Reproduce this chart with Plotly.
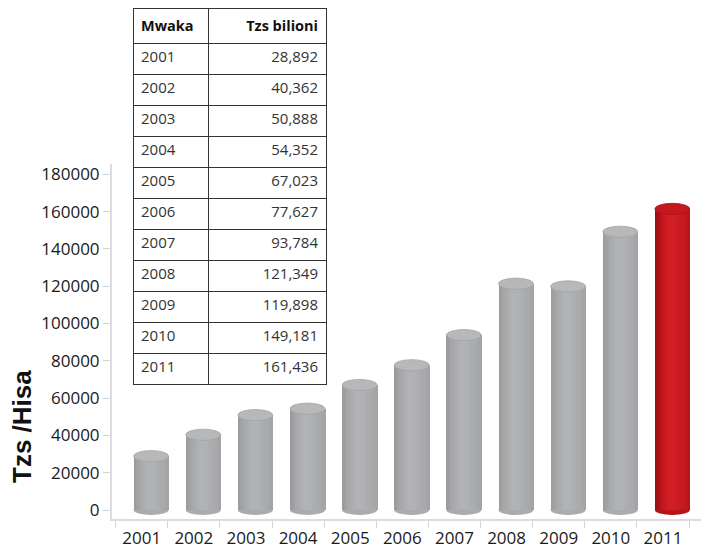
import plotly.graph_objects as go

# ---- data ----
years = ["2001", "2002", "2003", "2004", "2005", "2006", "2007", "2008", "2009", "2010", "2011"]
values = [28892, 40362, 50888, 54352, 67023, 77627, 93784, 121349, 119898, 149181, 161436]
value_labels = ["28,892", "40,362", "50,888", "54,352", "67,023", "77,627",
                "93,784", "121,349", "119,898", "149,181", "161,436"]
y_ticks = [0, 20000, 40000, 60000, 80000, 100000, 120000, 140000, 160000, 180000]
table_header = ["Mwaka", "Tzs bilioni"]
y_title = "Tzs /Hisa"

W, H = 701, 553
MB = 34
PH = H - MB  # paper height

# cylinder gradient stops (left -> right)
gray_stops = [(152, 153, 155), (164, 165, 167), (172, 173, 175), (178, 179, 181),
              (177, 178, 180), (172, 173, 175), (168, 169, 171), (162, 163, 165)]
red_stops = [(150, 12, 16), (178, 18, 24), (200, 26, 32), (210, 30, 36),
             (208, 30, 36), (200, 26, 32), (194, 24, 30), (180, 20, 26)]

def interp(stops, t):
    n = len(stops) - 1
    p = t * n
    i = min(int(p), n - 1)
    f = p - i
    a, b = stops[i], stops[i + 1]
    c = tuple(round(a[k] + (b[k] - a[k]) * f) for k in range(3))
    return "rgb(%d,%d,%d)" % c

highlight = [y == "2011" for y in years]
bar_off = -0.155
bar_w = 0.67
N = 14
sw = bar_w / N

fig = go.Figure()
for s in range(N):
    t = (s + 0.5) / N
    cols = [interp(red_stops, t) if h else interp(gray_stops, t) for h in highlight]
    fig.add_trace(go.Bar(
        x=years, y=values, base=0,
        offset=bar_off + s * sw, width=sw * 1.25,
        marker=dict(color=cols, line=dict(width=0)),
        showlegend=False, hoverinfo="skip",
    ))

cap_h = 3000
shapes = []
for i, (v, h) in enumerate(zip(values, highlight)):
    x0 = i + bar_off
    x1 = i + bar_off + bar_w
    # bottom ellipse
    shapes.append(dict(type="circle", xref="x", yref="y", x0=x0, x1=x1,
                       y0=-cap_h * 0.9, y1=cap_h * 0.9, layer="below",
                       fillcolor="rgb(180,20,26)" if h else "rgb(170,171,173)",
                       line=dict(width=0)))
    # top cap
    shapes.append(dict(type="circle", xref="x", yref="y", x0=x0, x1=x1,
                       y0=v - cap_h, y1=v + cap_h, layer="above",
                       fillcolor="rgb(196,24,30)" if h else "rgb(183,184,186)",
                       line=dict(width=0.8, color="rgb(170,18,24)" if h else "rgb(162,163,165)")))

fig.add_trace(go.Table(
    domain=dict(x=[133 / W, 326 / W], y=[(PH - 394) / PH, (PH - 8) / PH]),
    columnwidth=[75, 118],
    header=dict(values=["<b>%s</b>" % t for t in table_header],
                align=["left", "right"], height=33,
                font=dict(family="Open Sans", size=14.5, color="#111111"),
                line=dict(color="#333333", width=1), fill=dict(color="white")),
    cells=dict(values=[years, value_labels], align=["left", "right"], height=31,
               font=dict(family="Open Sans", size=15, color="#333333"),
               line=dict(color="#333333", width=1), fill=dict(color="white")),
))

fig.update_layout(
    width=W, height=H,
    margin=dict(l=0, r=0, t=0, b=MB, pad=0),
    paper_bgcolor="white", plot_bgcolor="white",
    barmode="overlay", bargap=0,
    shapes=shapes,
    hovermode=False,
    font=dict(family="Open Sans", size=17, color="#1a1a1a"),
    xaxis=dict(type="category", domain=[112 / W, 1], range=[-0.57, 10.73],
               tickson="boundaries", ticks="outside", ticklen=7, tickcolor="#d4d4d4",
               tickwidth=1, showline=True, linecolor="#dcdcdc", linewidth=2,
               showgrid=False, zeroline=False, automargin=False,
               ticklabelstandoff=3,
               tickfont=dict(family="Open Sans", size=17, color="#1a1a1a")),
    yaxis=dict(domain=[0, (PH - 164) / PH], range=[-4800, 185500],
               tickvals=y_ticks, ticktext=[str(v) for v in y_ticks],
               ticks="outside", ticklen=7, tickcolor="#d4d4d4", tickwidth=1,
               showline=True, linecolor="#dcdcdc", linewidth=2,
               showgrid=False, zeroline=False, automargin=False,
               tickfont=dict(family="Open Sans", size=17, color="#1a1a1a")),
    annotations=[dict(text="<b>%s</b>" % y_title, xref="paper", yref="paper",
                      x=22 / W, y=(PH - 427) / PH, textangle=-90, showarrow=False,
                      xanchor="center", yanchor="middle",
                      font=dict(family="Liberation Sans", size=26, color="#111111"))],
)

fig.write_html("out.html")
